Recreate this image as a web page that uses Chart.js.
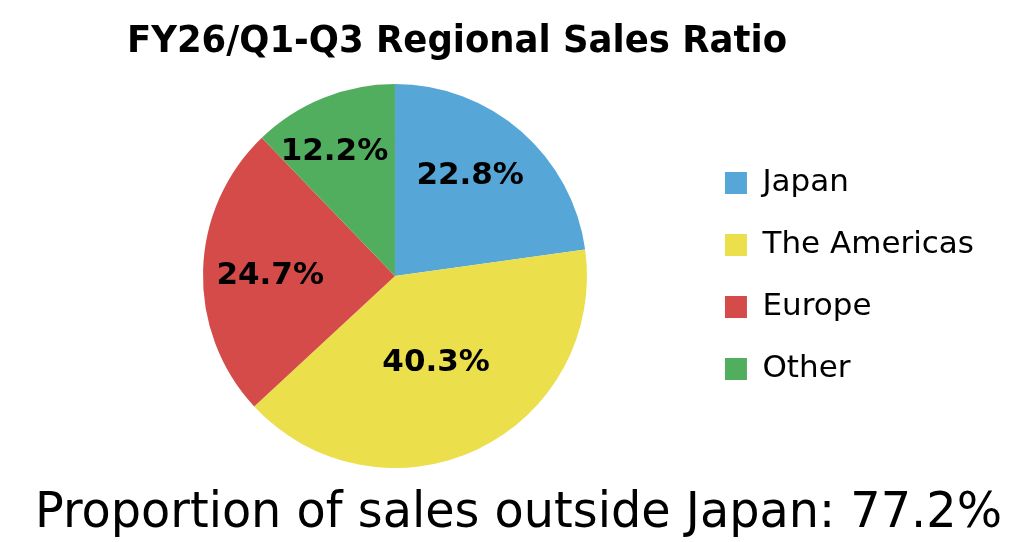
<!DOCTYPE html>
<html>
<head>
<meta charset="utf-8">
<script src="https://cdn.jsdelivr.net/npm/chart.js@4/dist/chart.umd.min.js"></script>
<style>
  html, body { margin: 0; padding: 0; background: #fff; }
  #wrap { width: 1028px; height: 542px; position: relative; }
</style>
</head>
<body>
<div id="wrap"><canvas id="salesChart" width="1028" height="542"></canvas></div>
<script>
const regions = ["Japan", "The Americas", "Europe", "Other"];
const shares = [22.8, 40.3, 24.7, 12.2];
const sliceColors = ["#57a6d8", "#ebdf4b", "#d44b4a", "#52ae5f"];
const chartTitle = "FY26/Q1-Q3 Regional Sales Ratio";
const footnote = "Proportion of sales outside Japan: 77.2%";

const FONT = "'DejaVu Sans', Verdana, sans-serif";

// how far out (fraction of radius) each label sits, and angle nudge in degrees
const labelRadius = [0.65, 0.5, 0.65, 0.72];
const labelNudge = [-4, 0, -1.5, -4];

// draws text squeezed/stretched horizontally to span [x0, x1]
function fitText(ctx, text, font, x0, x1, baseline) {
  ctx.save();
  ctx.font = font;
  ctx.textAlign = "left";
  ctx.textBaseline = "alphabetic";
  ctx.fillStyle = "#000";
  const w = ctx.measureText(text).width;
  ctx.translate(x0, baseline);
  ctx.scale((x1 - x0) / w, 1);
  ctx.fillText(text, 0, 0);
  ctx.restore();
}

const headings = {
  id: "headings",
  afterDraw(chart) {
    const ctx = chart.ctx;
    fitText(ctx, chartTitle, "bold 37px " + FONT, 127, 787, 52);
    fitText(ctx, footnote, "50px " + FONT, 35, 1002, 527);
  },
};

const sliceLabels = {
  id: "sliceLabels",
  afterDatasetsDraw(chart) {
    const ctx = chart.ctx;
    const meta = chart.getDatasetMeta(0);
    ctx.save();
    ctx.font = "bold 31px " + FONT;
    ctx.fillStyle = "#000";
    ctx.textAlign = "center";
    ctx.textBaseline = "middle";
    meta.data.forEach((arc, i) => {
      const p = arc.getProps(["x", "y", "startAngle", "endAngle", "outerRadius"], true);
      const mid = (p.startAngle + p.endAngle) / 2 + (labelNudge[i] * Math.PI) / 180;
      const r = p.outerRadius * labelRadius[i];
      ctx.fillText(shares[i].toFixed(1) + "%", p.x + Math.cos(mid) * r, p.y + Math.sin(mid) * r);
    });
    ctx.restore();
  },
};

const ctx = document.getElementById("salesChart").getContext("2d");
new Chart(ctx, {
  type: "pie",
  data: {
    labels: regions,
    datasets: [
      {
        data: shares,
        backgroundColor: sliceColors,
        borderWidth: 0,
      },
    ],
  },
  options: {
    responsive: false,
    animation: false,
    layout: { padding: { left: 96, right: 44, top: 84, bottom: 74 } },
    plugins: {
      title: { display: false },
      legend: {
        position: "right",
        labels: {
          color: "#000",
          boxWidth: 22,
          boxHeight: 22,
          padding: 31,
          font: { family: FONT, size: 31 },
        },
      },
      tooltip: { enabled: false },
    },
  },
  plugins: [sliceLabels, headings],
});
</script>
</body>
</html>
